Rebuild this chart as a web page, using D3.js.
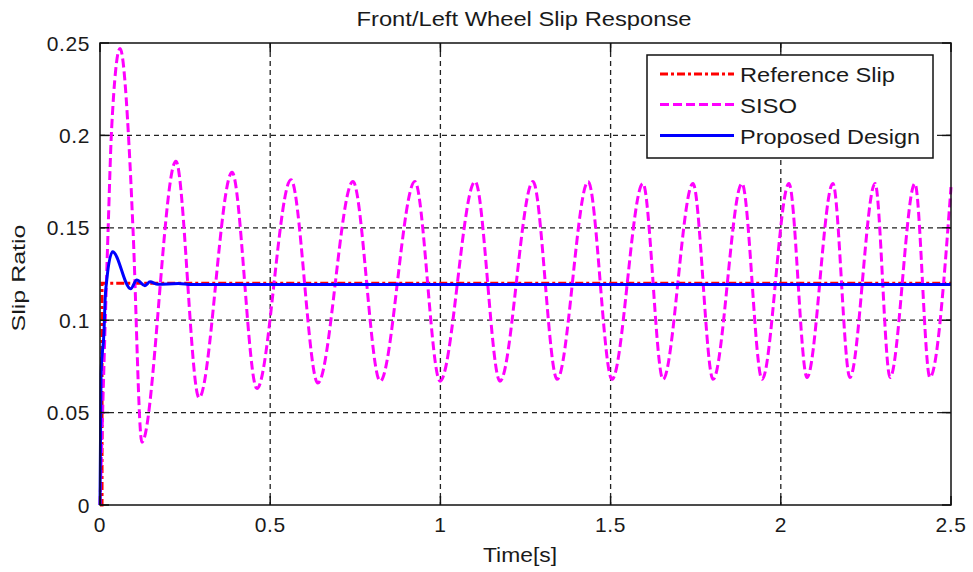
<!DOCTYPE html>
<html>
<head>
<meta charset="utf-8">
<script src="https://cdn.jsdelivr.net/npm/d3@7"></script>
<style>
  html, body { margin: 0; padding: 0; background: #fff; }
  svg { display: block; }
  text { font-family: "Liberation Sans", Arial, Helvetica, sans-serif; fill: #1a1a1a; }
</style>
</head>
<body>
<svg id="chart" width="973" height="572"></svg>
<script>
// ---- data ----
const xTicks = [0, 0.5, 1, 1.5, 2, 2.5];
const xTickLabels = ["0", "0.5", "1", "1.5", "2", "2.5"];
const yTicks = [0, 0.05, 0.1, 0.15, 0.2, 0.25];
const yTickLabels = ["0", "0.05", "0.1", "0.15", "0.2", "0.25"];

// Reference slip: step to 0.12
const refTime = [0, 0.006, 0.006, 2.5];
const refSlip = [0, 0, 0.12, 0.12];

// SISO controller response (turning points of the oscillation)
const sisoTime = [0, 0.024, 0.034, 0.0588, 0.088, 0.097, 0.123, 0.223, 0.291, 0.388, 0.461,
  0.561, 0.640, 0.743, 0.823, 0.925, 0.999, 1.102, 1.175, 1.272, 1.343, 1.434, 1.504,
  1.595, 1.654, 1.742, 1.801, 1.886, 1.945, 2.024, 2.077, 2.153, 2.203, 2.277, 2.321,
  2.394, 2.438, 2.5];
const sisoSlip = [0, 0.150, 0.203, 0.247, 0.185, 0.149, 0.034, 0.186, 0.058, 0.180, 0.063,
  0.176, 0.066, 0.175, 0.067, 0.175, 0.067, 0.175, 0.067, 0.175, 0.068, 0.175, 0.068,
  0.174, 0.068, 0.174, 0.068, 0.174, 0.068, 0.174, 0.069, 0.174, 0.069, 0.174, 0.069,
  0.174, 0.069, 0.172];

// Proposed design response
const propTime = [0, 0.003, 0.012, 0.015, 0.020, 0.037, 0.090, 0.108, 0.132, 0.147, 0.17, 0.23, 0.27, 2.5];
const propSlip = [0, 0.071, 0.095, 0.111, 0.122, 0.137, 0.117, 0.1218, 0.1187, 0.1208, 0.1194, 0.1199, 0.1193, 0.1193];

const seriesNames = ["Reference Slip", "SISO", "Proposed Design"];

// ---- layout ----
const svg = d3.select("#chart");
const L = 100, R = 951, T = 43, B = 505;
const x = d3.scaleLinear().domain([0, 2.5]).range([L, R]);
const y = d3.scaleLinear().domain([0, 0.25]).range([B, T]);

// grid
const grid = svg.append("g").attr("stroke", "#222").attr("stroke-width", 1.3)
  .attr("stroke-dasharray", "5,4");
grid.selectAll("line.v").data(xTicks.slice(1, -1)).join("line")
  .attr("x1", d => x(d)).attr("x2", d => x(d)).attr("y1", T).attr("y2", B);
grid.selectAll("line.h").data(yTicks.slice(1, -1)).join("line")
  .attr("x1", L).attr("x2", R).attr("y1", d => y(d)).attr("y2", d => y(d));

// series
const zip = (ts, vs) => ts.map((t, i) => [t, vs[i]]);
const lineLin = d3.line().x(d => x(d[0])).y(d => y(d[1]));
const lineSmooth = d3.line().x(d => x(d[0])).y(d => y(d[1])).curve(d3.curveMonotoneX);

const styles = [
  { color: "#ff0000", dash: "8,3,3,3", width: 3 },
  { color: "#ff00ff", dash: "9,4", width: 3 },
  { color: "#0000ff", dash: null, width: 3 }
];

const plot = svg.append("g");
plot.append("path").attr("d", lineLin(zip(refTime, refSlip)))
  .attr("fill", "none").attr("stroke", styles[0].color).attr("stroke-width", styles[0].width)
  .attr("stroke-dasharray", styles[0].dash);
plot.append("path").attr("d", lineSmooth(zip(sisoTime, sisoSlip)))
  .attr("fill", "none").attr("stroke", styles[1].color).attr("stroke-width", styles[1].width)
  .attr("stroke-dasharray", styles[1].dash);
plot.append("path").attr("d", lineSmooth(zip(propTime, propSlip)))
  .attr("fill", "none").attr("stroke", styles[2].color).attr("stroke-width", styles[2].width)
  .attr("stroke-linejoin", "round");

// axes box and inward ticks
const axisCol = "#111";
svg.append("rect").attr("x", L).attr("y", T).attr("width", R - L).attr("height", B - T)
  .attr("fill", "none").attr("stroke", axisCol).attr("stroke-width", 1.5);

const tickLen = 9;
const ticks = svg.append("g").attr("stroke", axisCol).attr("stroke-width", 1.5);
xTicks.forEach(t => {
  ticks.append("line").attr("x1", x(t)).attr("x2", x(t)).attr("y1", B).attr("y2", B - tickLen);
  ticks.append("line").attr("x1", x(t)).attr("x2", x(t)).attr("y1", T).attr("y2", T + tickLen);
});
yTicks.forEach(t => {
  ticks.append("line").attr("x1", L).attr("x2", L + tickLen).attr("y1", y(t)).attr("y2", y(t));
  ticks.append("line").attr("x1", R).attr("x2", R - tickLen).attr("y1", y(t)).attr("y2", y(t));
});

// tick labels
svg.append("g").selectAll("text").data(xTicks).join("text")
  .attr("x", d => x(d)).attr("y", 532).attr("text-anchor", "middle")
  .attr("font-size", 21).attr("letter-spacing", 0.6)
  .text((d, i) => xTickLabels[i]);
svg.append("g").selectAll("text").data(yTicks).join("text")
  .attr("x", 90).attr("y", d => y(d) + 7.5).attr("text-anchor", "end")
  .attr("font-size", 21).attr("letter-spacing", 0.6)
  .text((d, i) => yTickLabels[i]);

// title & axis labels
svg.append("text").attr("x", 524).attr("y", 26).attr("text-anchor", "middle")
  .attr("font-size", 20).attr("textLength", 335).attr("lengthAdjust", "spacingAndGlyphs")
  .text("Front/Left Wheel Slip Response");
svg.append("text").attr("x", 520).attr("y", 562).attr("text-anchor", "middle")
  .attr("font-size", 21).attr("textLength", 74).attr("lengthAdjust", "spacingAndGlyphs")
  .text("Time[s]");
svg.append("text").attr("transform", "translate(25,278) rotate(-90)").attr("text-anchor", "middle")
  .attr("font-size", 18).attr("textLength", 107).attr("lengthAdjust", "spacingAndGlyphs")
  .text("Slip Ratio");

// legend
const lg = svg.append("g");
lg.append("rect").attr("x", 647).attr("y", 55).attr("width", 286).attr("height", 103)
  .attr("fill", "#fff").attr("stroke", axisCol).attr("stroke-width", 1.5);
const rowY = [74, 104.5, 135.5];
const textLens = [155, 57, 180];
seriesNames.forEach((name, i) => {
  lg.append("line").attr("x1", 660).attr("x2", 734).attr("y1", rowY[i]).attr("y2", rowY[i])
    .attr("stroke", styles[i].color).attr("stroke-width", styles[i].width)
    .attr("stroke-dasharray", styles[i].dash);
  lg.append("text").attr("x", 740).attr("y", rowY[i] + 8).attr("font-size", 21)
    .attr("textLength", textLens[i]).attr("lengthAdjust", "spacingAndGlyphs")
    .text(name);
});
</script>
</body>
</html>
